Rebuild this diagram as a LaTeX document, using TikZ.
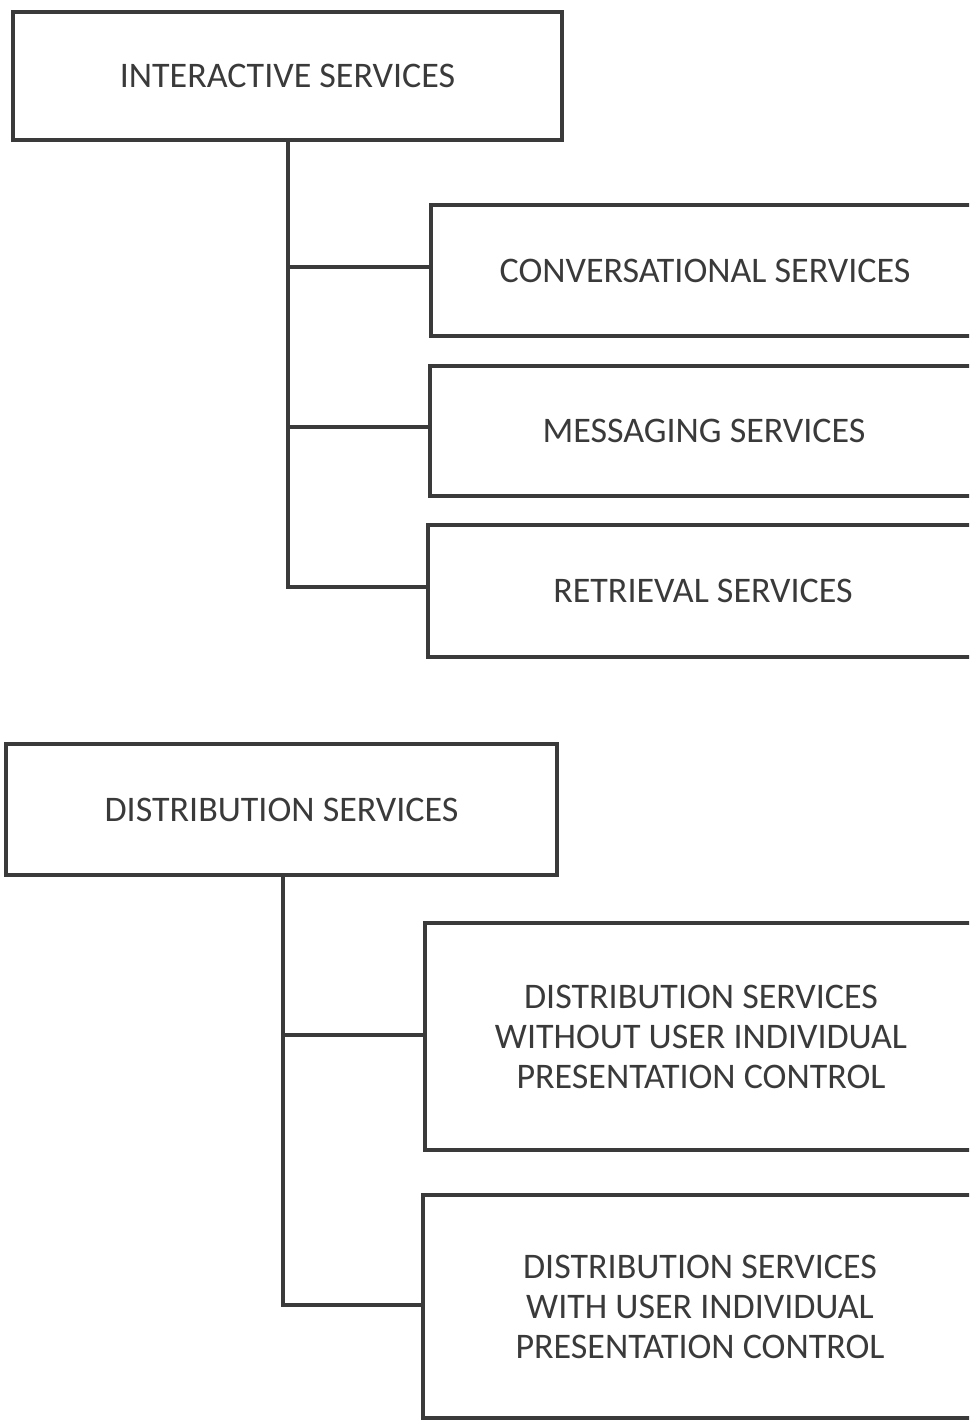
\documentclass[tikz,border=0pt]{standalone}
\usepackage{fontspec}
\setmainfont{Carlito}
\definecolor{ink}{HTML}{3A3A3A}
\begin{document}
\begin{tikzpicture}[x=1pt,y=-1pt,
  box/.style={draw=ink, line width=4pt, rectangle, inner sep=0pt, outer sep=0pt,
    text=ink, font=\fontsize{36}{40}\selectfont, align=center},
  link/.style={draw=ink, line width=4pt, line cap=rect}]
\useasboundingbox (0,0) rectangle (969,1421);
\clip (0,0) rectangle (969,1421);

% Interactive services group
\node[box, minimum width=549, minimum height=128] (ia) at (287.5,76) {INTERACTIVE SERVICES};
\node[box, minimum width=548, minimum height=131] (conv) at (705,270.5) {CONVERSATIONAL SERVICES};
\node[box, minimum width=548, minimum height=130] (msg) at (704,431) {MESSAGING SERVICES};
\node[box, minimum width=550, minimum height=132] (ret) at (703,591) {RETRIEVAL SERVICES};
\coordinate (ia1) at (288,267);
\coordinate (ia2) at (288,427);
\coordinate (ia3) at (288,587);
\draw[link] (ia.south -| ia1) -- (ia3) -- (ret.west |- ia3);
\draw[link] (ia1) -- (conv.west |- ia1);
\draw[link] (ia2) -- (msg.west |- ia2);

% Distribution services group
\node[box, minimum width=551, minimum height=131] (ds) at (281.5,809.5) {DISTRIBUTION SERVICES};
\node[box, minimum width=552, minimum height=227] (wo) at (701,1036.5)
  {DISTRIBUTION SERVICES\\WITHOUT USER INDIVIDUAL\\PRESENTATION CONTROL};
\node[box, minimum width=554, minimum height=223] (wi) at (700,1306.5)
  {DISTRIBUTION SERVICES\\WITH USER INDIVIDUAL\\PRESENTATION CONTROL};
\coordinate (ds1) at (283,1035);
\coordinate (ds2) at (283,1305);
\draw[link] (ds.south -| ds1) -- (ds2) -- (wi.west |- ds2);
\draw[link] (ds1) -- (wo.west |- ds1);
\end{tikzpicture}
\end{document}
